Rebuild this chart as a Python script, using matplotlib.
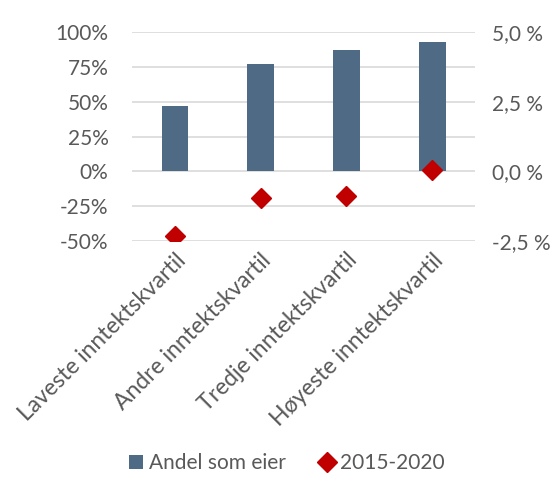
import matplotlib.pyplot as plt
from matplotlib.ticker import FuncFormatter

categories = ['Laveste inntektskvartil', 'Andre inntektskvartil',
              'Tredje inntektskvartil', 'Høyeste inntektskvartil']
andel_som_eier = [47, 77, 87, 93]          # percent, left axis
endring_2015_2020 = [-2.33, -0.95, -0.87, 0.06]  # percent, right axis

text_color = '#595959'
plt.rcParams['font.family'] = ['Lato', 'DejaVu Sans']

fig = plt.figure(figsize=(5.57, 4.92), dpi=100)
ax = fig.add_axes([0.237, 0.510, 0.616, 0.425])
x = range(len(categories))

ax.set_axisbelow(True)
ax.grid(axis='y', color='#D9D9D9', linewidth=1.2)
bars = ax.bar(x, andel_som_eier, width=0.31, color='#4F6A84', label='Andel som eier', zorder=2)
ax.set_ylim(-50, 100)
ax.set_yticks([-50, -25, 0, 25, 50, 75, 100])
ax.yaxis.set_major_formatter(FuncFormatter(lambda v, p: f'{v:.0f}%'))
ax.set_xlim(-0.5, len(categories) - 0.5)
ax.set_xticks(list(x))
ax.set_xticklabels(categories, rotation=45, ha='right', rotation_mode='anchor')

ax2 = ax.twinx()
pts, = ax2.plot(x, endring_2015_2020, linestyle='none', marker='D', markersize=10,
                color='#C00000', label='2015-2020', zorder=3)
ax2.set_ylim(-2.5, 5.0)
ax2.set_yticks([-2.5, 0, 2.5, 5.0])
ax2.yaxis.set_major_formatter(FuncFormatter(lambda v, p: f'{v:.1f} %'.replace('.', ',')))

for a in (ax, ax2):
    for s in a.spines.values():
        s.set_visible(False)
    a.tick_params(length=0, labelsize=15, colors=text_color, pad=12)
ax.tick_params(axis='y', pad=17)
ax.tick_params(axis='x', pad=6, labelsize=16.5)

fig.legend(handles=[bars, pts], loc='lower center', bbox_to_anchor=(0.515, 0.0), ncol=2,
           frameon=False, fontsize=15, labelcolor=text_color, handlelength=0.7,
           handletextpad=0.3, columnspacing=1.6)

fig.savefig('out.png', dpi=100)
